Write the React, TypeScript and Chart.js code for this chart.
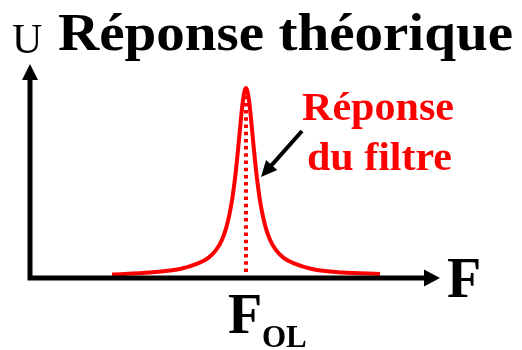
import React, { useEffect, useRef } from "react";
import { Chart, registerables } from "chart.js";
Chart.register(...registerables);

// Frequency (arbitrary units, axis 0..100) and response U (arbitrary units, 0..100)
const freq = [20.00, 29.27, 36.58, 40.97, 43.41, 45.36, 46.83, 47.80, 48.53, 49.27, 49.75, 50.24, 50.73, 51.22, 51.58, 51.95, 52.31, 52.68, 53.05, 53.41, 53.78, 54.14, 54.63, 55.12, 55.61, 56.09, 56.83, 57.56, 58.53, 60.00, 61.95, 64.39, 68.78, 76.09, 85.36];
const response = [1.6, 2.6, 4.2, 6.8, 9.3, 13.0, 17.9, 23.1, 28.7, 36.2, 42.8, 50.5, 59.8, 69.6, 76.9, 83.0, 87.2, 88.8, 87.2, 83.0, 76.9, 69.6, 59.8, 50.5, 42.8, 36.2, 28.7, 23.1, 17.9, 13.0, 9.3, 6.8, 4.2, 2.6, 1.9];
const folValue = 52.68;
const folMarkerRange = [2.8, 85.5];

const titleText = "Réponse théorique";
const yAxisLabel = "U";
const xAxisLabel = "F";
const folLabel = "F";
const folSub = "OL";
const curveLabel = ["Réponse", "du filtre"];

const SERIF = "'Liberation Serif', 'Times New Roman', serif";

function drawStretched(ctx: CanvasRenderingContext2D, text: string, x: number, y: number, font: string, targetW: number, color: string) {
  ctx.save();
  ctx.font = font;
  ctx.fillStyle = color;
  ctx.textBaseline = "alphabetic";
  ctx.textAlign = "left";
  const w = ctx.measureText(text).width;
  const sx = targetW / w;
  ctx.translate(x, y);
  ctx.scale(sx, 1);
  ctx.fillText(text, 0, 0);
  ctx.restore();
}

const decorPlugin = {
  id: "decor",
  afterDatasetsDraw(chart: any) {
    const ctx: CanvasRenderingContext2D = chart.ctx;
    const xs = chart.scales.x;
    const ys = chart.scales.y;
    const x0 = xs.getPixelForValue(0);
    const x1 = xs.getPixelForValue(100);
    const y0 = ys.getPixelForValue(0);
    const y1 = ys.getPixelForValue(100);
    ctx.save();
    // axes
    ctx.strokeStyle = "#000";
    ctx.fillStyle = "#000";
    ctx.lineWidth = 5;
    ctx.lineCap = "butt";
    ctx.beginPath();
    ctx.moveTo(x0, y0 + 2.5);
    ctx.lineTo(x0, y1 + 14);
    ctx.moveTo(x0 - 2.5, y0);
    ctx.lineTo(x1 - 14, y0);
    ctx.stroke();
    // y arrowhead
    ctx.beginPath();
    ctx.moveTo(x0, y1);
    ctx.lineTo(x0 - 8, y1 + 16);
    ctx.lineTo(x0 + 8, y1 + 16);
    ctx.closePath();
    ctx.fill();
    // x arrowhead
    ctx.beginPath();
    ctx.moveTo(x1, y0);
    ctx.lineTo(x1 - 16, y0 - 8.5);
    ctx.lineTo(x1 - 16, y0 + 8.5);
    ctx.closePath();
    ctx.fill();

    // pointer arrow to the curve
    const ax0 = 302, ay0 = 131, ax1 = 261, ay1 = 177;
    const ang = Math.atan2(ay1 - ay0, ax1 - ax0);
    const hl = 16, hw = 7.5;
    const bx = ax1 - hl * Math.cos(ang), by = ay1 - hl * Math.sin(ang);
    ctx.lineWidth = 4;
    ctx.beginPath();
    ctx.moveTo(ax0, ay0);
    ctx.lineTo(bx + 2 * Math.cos(ang), by + 2 * Math.sin(ang));
    ctx.stroke();
    ctx.beginPath();
    ctx.moveTo(ax1, ay1);
    ctx.lineTo(bx + hw * Math.sin(ang), by - hw * Math.cos(ang));
    ctx.lineTo(bx - hw * Math.sin(ang), by + hw * Math.cos(ang));
    ctx.closePath();
    ctx.fill();
    ctx.restore();

    // texts
    drawStretched(ctx, titleText, 58, 50, `bold 52px ${SERIF}`, 455, "#000");
    ctx.save();
    ctx.fillStyle = "#000";
    ctx.textBaseline = "alphabetic";
    ctx.font = `42px ${SERIF}`;
    ctx.fillText(yAxisLabel, 12, 53);
    ctx.font = `bold 56px ${SERIF}`;
    ctx.fillText(xAxisLabel, 447, 297);
    ctx.fillText(folLabel, 228, 333);
    ctx.font = `bold 31px ${SERIF}`;
    ctx.fillText(folSub, 262, 347);
    ctx.restore();
    drawStretched(ctx, curveLabel[0], 302, 120, `bold 40px ${SERIF}`, 152, "#ff0000");
    drawStretched(ctx, curveLabel[1], 307, 170, `bold 40px ${SERIF}`, 145, "#ff0000");
  },
};

export default function App() {
  const ref = useRef<HTMLCanvasElement | null>(null);
  useEffect(() => {
    document.body.style.margin = "0";
    const canvas = ref.current;
    if (!canvas) return;
    const chart = new Chart(canvas, {
      type: "line",
      data: {
        datasets: [
          {
            data: freq.map((f, i) => ({ x: f, y: response[i] })),
            borderColor: "#ff0000",
            borderWidth: 4,
            pointRadius: 0,
            cubicInterpolationMode: "monotone",
            fill: false,
          },
          {
            data: folMarkerRange.map((v) => ({ x: folValue, y: v })),
            borderColor: "#ff0000",
            borderWidth: 4,
            borderDash: [3.5, 3.7],
            pointRadius: 0,
            fill: false,
          },
        ],
      },
      options: {
        responsive: false,
        animation: false,
        layout: { padding: { left: 30, right: 82, top: 64, bottom: 72 } },
        plugins: { legend: { display: false }, tooltip: { enabled: false }, title: { display: false } },
        scales: {
          x: { type: "linear", min: 0, max: 100, display: false },
          y: { type: "linear", min: 0, max: 100, display: false },
        },
      },
      plugins: [decorPlugin],
    } as any);
    return () => chart.destroy();
  }, []);
  return (
    <div style={{ position: "absolute", left: 0, top: 0, width: 522, height: 350, background: "#fff" }}>
      <canvas ref={ref} width={522} height={350} />
    </div>
  );
}
